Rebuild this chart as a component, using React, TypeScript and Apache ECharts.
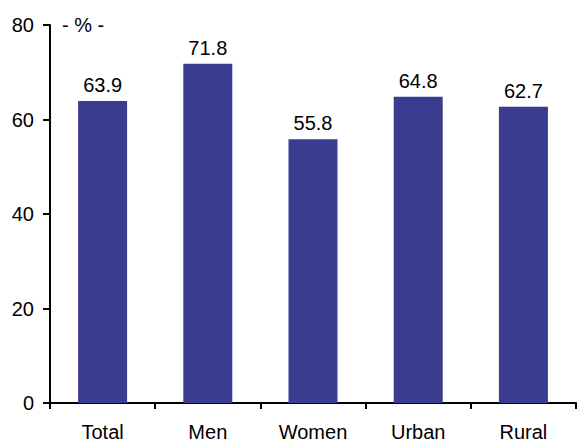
import React, { useEffect, useRef } from "react";
import * as echarts from "echarts";

const categories = ["Total", "Men", "Women", "Urban", "Rural"];
const values = [63.9, 71.8, 55.8, 64.8, 62.7];
const yTicks = [0, 20, 40, 60, 80];
const unitLabel = "- % -";

export default function App() {
  const ref = useRef<HTMLDivElement>(null);
  useEffect(() => {
    const chart = echarts.init(ref.current!, null, { renderer: "svg" });
    const font = "Liberation Sans, Arial, sans-serif";
    chart.setOption({
      animation: false,
      grid: { left: 50, right: 3, top: 25, bottom: 40, containLabel: false },
      graphic: [
        {
          type: "text",
          left: 62,
          top: 15,
          style: { text: unitLabel, font: `20px ${font}`, fill: "#000" },
        },
      ],
      xAxis: {
        type: "category",
        data: categories,
        axisLine: { lineStyle: { color: "#000", width: 2 } },
        axisTick: { show: true, length: 6, lineStyle: { color: "#000", width: 2 }, alignWithLabel: false },
        axisLabel: { color: "#000", fontSize: 20, fontFamily: font, margin: 19 },
      },
      yAxis: {
        type: "value",
        min: yTicks[0],
        max: yTicks[yTicks.length - 1],
        interval: 20,
        splitLine: { show: false },
        axisLine: { show: true, lineStyle: { color: "#000", width: 2 } },
        axisTick: { show: true, inside: false, length: 7, lineStyle: { color: "#000", width: 2 } },
        axisLabel: { color: "#000", fontSize: 20, fontFamily: font, margin: 16 },
      },
      series: [
        {
          type: "bar",
          data: values,
          barWidth: 49,
          itemStyle: { color: "#3a3c8f" },
          label: {
            show: true,
            position: "top",
            distance: 6,
            color: "#000",
            fontSize: 20,
            fontFamily: font,
            formatter: (p: any) => p.value.toFixed(1),
          },
        },
      ],
    });
    return () => chart.dispose();
  }, []);
  return <div ref={ref} style={{ width: 579, height: 443, position: "absolute", left: 0, top: 0 }} />;
}
